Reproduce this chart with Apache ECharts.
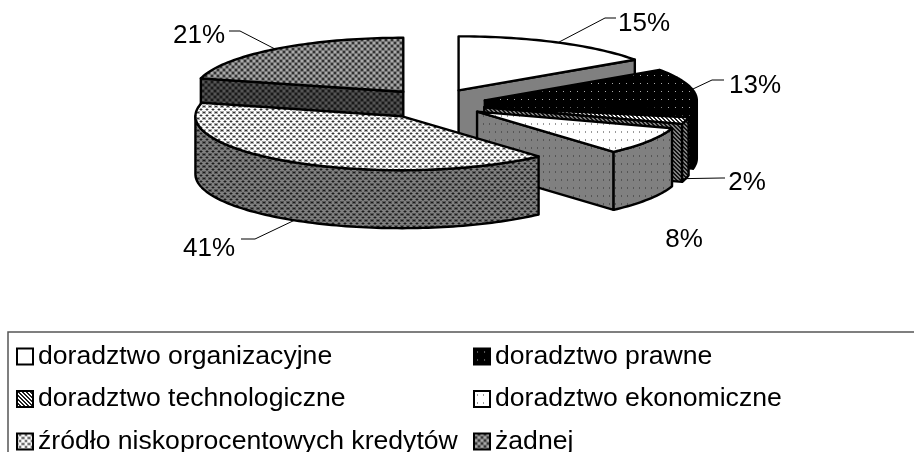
<!DOCTYPE html>
<html>
<head>
<meta charset="utf-8">
<style>html,body{margin:0;padding:0;background:#fff}#chart{width:914px;height:452px}</style>
<script src="https://cdn.jsdelivr.net/npm/echarts@6/dist/echarts.min.js"></script>
</head>
<body>
<div id="chart"></div>
<script>
// data, clockwise from 12 o'clock
var categories = ['doradztwo organizacyjne','doradztwo prawne','doradztwo technologiczne','doradztwo ekonomiczne','źródło niskoprocentowych kredytów','żadnej'];
var values = [15.4, 12.6, 2, 8.4, 40.6, 21];
var labels = ['15%','13%','2%','8%','41%','21%'];

// layout of the fake 3d pie
var cx = 431, cy = 103.5, ry = 54, depth = 58;
var radiusX = [214,212,208,205,206,209];
var nudgeX = [2,0,0,0,-1,6];
var explode = 55, explodeY = 0.27;
var labelAt = [[644,24],[755,86],[747,183],[684,240],[209,249],[199,36]];
var knees = [[[605,18],[616,18]],[[712,80],[724,80]],[[722,178],[725,178]],null,[[255,239],[241,239]],[[240,31],[229,31]]];

function tile(rows, colors){
	var c = document.createElement('canvas');
	c.width = rows[0].length; c.height = rows.length;
	var g = c.getContext('2d');
	for(var y=0;y<rows.length;y++){
		for(var x=0;x<rows[y].length;x++){
			g.fillStyle = colors[rows[y][x]];
			g.fillRect(x,y,1,1);
		}
	}
	return {image:c, repeat:'repeat'};
}
var dots = ['......','......','......','...x..','...x..','......','......','......'];
var sparse = ['.......','.......','.......','...x...','.......','.......','.......','.......'];
var hatch = ['xx..','.xx.','..xx','x..x'];
var mesh = ['gllgdd','gllgdd','gggggg','gddgll','gddgll','gggggg'];
var sphere = ['wwggww','wgddgw','wwggww','ggwwgg','dgwwgd','ggwwgg'];
var topFill = [
	'#fff',
	tile(sparse,{'.':'#000',x:'#aaa'}),
	tile(hatch,{'.':'#fff',x:'#222'}),
	tile(dots,{'.':'#fff',x:'#999'}),
	tile(sphere,{w:'#fff',g:'#aaa',d:'#333'}),
	tile(mesh,{l:'#aaa',d:'#333',g:'#777'})
];
var wallFill = [
	'#808080',
	tile(sparse,{'.':'#000',x:'#666'}),
	tile(hatch,{'.':'#808080',x:'#111'}),
	tile(dots,{'.':'#808080',x:'#555'}),
	tile(sphere,{w:'#808080',g:'#555',d:'#1a1a1a'}),
	tile(mesh,{l:'#555',d:'#1a1a1a',g:'#3a3a3a'})
];

var total = values.reduce(function(a,b){return a+b;},0);
var starts = [], acc = 0;
values.forEach(function(v){ starts.push(acc/total*Math.PI*2); acc += v; });
function endOf(i){ return starts[i] + values[i]/total*Math.PI*2; }
function midOf(i){ return (starts[i]+endOf(i))/2; }
function apex(i){
	var m = midOf(i);
	return [cx+nudgeX[i]+explode*Math.sin(m), cy-explode*explodeY*Math.cos(m)];
}
function rim(i,c,a,dy){ return [c[0]+radiusX[i]*Math.sin(a), c[1]-ry*Math.cos(a)+(dy||0)]; }
function arc(i,c,a0,a1,dy){
	var pts = [], n = Math.max(2,Math.ceil((a1-a0)*40));
	for(var k=0;k<=n;k++){ pts.push(rim(i,c,a0+(a1-a0)*k/n,dy)); }
	return pts;
}
function poly(points,fill){
	return {type:'polygon',shape:{points:points},style:{fill:fill,stroke:'#000',lineWidth:2.4,lineJoin:'round'}};
}
function cutWall(i,c,a){
	var r = rim(i,c,a);
	return poly([c,r,[r[0],r[1]+depth],[c[0],c[1]+depth]],wallFill[i]);
}

function drawSlice(i){
	return function(){
		var c = apex(i), a0 = starts[i], a1 = endOf(i), kids = [];
		if(Math.sin(a0)<-0.01){ kids.push(cutWall(i,c,a0)); }
		if(Math.sin(a1)>0.01){ kids.push(cutWall(i,c,a1)); }
		var f0 = Math.max(a0,Math.PI/2), f1 = Math.min(a1,Math.PI*1.5);
		if(f1>f0){
			kids.push(poly(arc(i,c,f0,f1,0).concat(arc(i,c,f0,f1,depth).reverse()),wallFill[i]));
		}
		kids.push(poly([c].concat(arc(i,c,a0,a1,0)),topFill[i]));
		var m = midOf(i);
		if(knees[i]){
			var dy = Math.cos(m)<0 ? depth : 0;
			kids.push({type:'polyline',z2:50,shape:{points:[rim(i,c,m,dy)].concat(knees[i])},style:{fill:null,stroke:'#000',lineWidth:1}});
		}
		kids.push({type:'text',z2:50,style:{text:labels[i],x:labelAt[i][0],y:labelAt[i][1],align:'center',verticalAlign:'middle',fill:'#000',font:'26px "Liberation Sans"'}});
		return {type:'group',children:kids};
	};
}

// back to front
var order = categories.map(function(n,i){return i;}).sort(function(a,b){
	return Math.cos(midOf(b))-Math.cos(midOf(a));
});
var series = categories.map(function(name,i){
	return {type:'custom',name:name,coordinateSystem:'none',silent:true,animation:false,
		z:2+order.indexOf(i),data:[values[i]],renderItem:drawSlice(i)};
});
function legendOf(ids,left){
	return {orient:'vertical',left:left,top:343,height:200,itemWidth:16,itemHeight:16,itemGap:15.5,selectedMode:false,
		icon:'rect',padding:0,
		textStyle:{fontFamily:'Liberation Sans',fontSize:26.6,color:'#000'},
		data:ids.map(function(i){
			return {name:categories[i],itemStyle:{color:topFill[i],borderColor:'#000',borderWidth:2}};
		})};
}
var myChart = echarts.init(document.getElementById('chart'));
myChart.setOption({
	animation:false,
	legend:[legendOf([0,2,4],16),legendOf([1,3,5],473)],
	graphic:[{type:'rect',shape:{x:8,y:332,width:930,height:200},style:{fill:'none',stroke:'#555',lineWidth:1.5}}],
	series:series
});
</script>
</body>
</html>
